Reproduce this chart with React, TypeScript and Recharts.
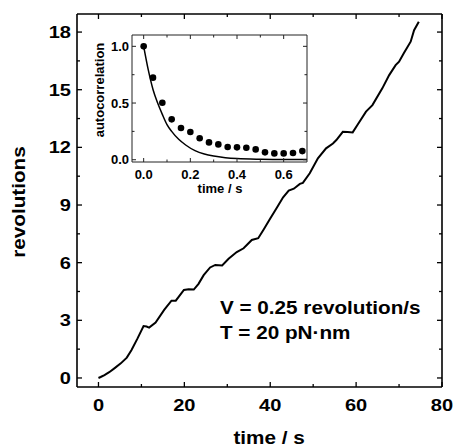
import React from 'react';
import { ComposedChart, Line, Scatter, XAxis, YAxis, Label } from 'recharts';

// ---- main trace (time / s, revolutions) ----
const traceTime = [0, 0.5, 1.4, 2.5, 3.7, 5.2, 6.6, 7.7, 9.1, 10.5, 11.2, 11.8, 13.3, 15.3, 17.0, 18.0, 19.9, 21.0, 22.2, 23.3, 24.5, 26.0, 27.2, 28.8, 30.3, 32.2, 33.8, 35.7, 37.2, 38.4, 40.0, 41.5, 43.0, 44.3, 45.5, 46.9, 47.6, 49.2, 51.1, 53.0, 54.6, 55.4, 56.9, 58.0, 59.2, 60.3, 62.3, 63.8, 66.1, 67.7, 69.2, 70.0, 71.1, 72.7, 73.5, 74.6];
const traceRevs = [0, 0.05, 0.15, 0.3, 0.5, 0.76, 1.06, 1.46, 2.06, 2.7, 2.68, 2.62, 2.88, 3.54, 4.02, 4.02, 4.58, 4.62, 4.6, 4.9, 5.35, 5.75, 5.88, 5.85, 6.2, 6.55, 6.75, 7.18, 7.27, 7.7, 8.3, 8.85, 9.4, 9.75, 9.85, 10.1, 10.15, 10.65, 11.43, 11.95, 12.2, 12.38, 12.81, 12.8, 12.78, 13.16, 13.86, 14.2, 15.07, 15.76, 16.28, 16.46, 16.9, 17.5, 18.1, 18.54];

// ---- inset: autocorrelation points ----
const acfLag = [0, 0.04, 0.08, 0.12, 0.16, 0.2, 0.24, 0.28, 0.32, 0.36, 0.4, 0.44, 0.48, 0.52, 0.56, 0.6, 0.64, 0.68];
const acfValue = [1.0, 0.724, 0.503, 0.356, 0.28, 0.244, 0.19, 0.153, 0.135, 0.112, 0.109, 0.106, 0.091, 0.065, 0.056, 0.056, 0.059, 0.076];

// ---- inset: fitted curve ----
const fitTime = [0, 0.02, 0.04, 0.06, 0.08, 0.1, 0.12, 0.15, 0.18, 0.22, 0.26, 0.3, 0.35, 0.4, 0.5, 0.6, 0.7];
const fitValue = [1.0, 0.79, 0.62, 0.5, 0.4, 0.31, 0.25, 0.18, 0.13, 0.08, 0.05, 0.032, 0.018, 0.01, 0.004, 0.002, 0.001];

// ---- ticks ----
const mainXTicks = [0, 10, 20, 30, 40, 50, 60, 70, 80];
const mainXMajor = [0, 20, 40, 60, 80];
const mainXLabels = ['0', '20', '40', '60', '80'];
const mainYTicks = [0, 1.5, 3, 4.5, 6, 7.5, 9, 10.5, 12, 13.5, 15, 16.5, 18];
const mainYMajor = [0, 3, 6, 9, 12, 15, 18];
const mainYLabels = ['0', '3', '6', '9', '12', '15', '18'];

const insetXTicks = [0, 0.1, 0.2, 0.3, 0.4, 0.5, 0.6];
const insetXMajor = [0, 0.2, 0.4, 0.6];
const insetXLabels = ['0.0', '0.2', '0.4', '0.6'];
const insetYTicks = [0, 0.25, 0.5, 0.75, 1.0];
const insetYMajor = [0, 0.5, 1.0];
const insetYLabels = ['0.0', '0.5', '1.0'];

const traceData = traceTime.map((t, i) => ({ t, r: traceRevs[i] }));
const acfData = acfLag.map((t, i) => ({ t, a: acfValue[i] }));
const fitData = fitTime.map((t, i) => ({ t, a: fitValue[i] }));

const FONT = '"Liberation Sans", Arial, Helvetica, sans-serif';

type Side = 'bottom' | 'top' | 'left' | 'right';

function makeTick(side: Side, majors: number[], labels: string[] | null, opt: { major: number; minor: number; size: number; sx: number; gap: number; color: string; width: number }) {
  return (props: any) => {
    const { x, y, payload } = props;
    const v = payload.value;
    const idx = majors.indexOf(v);
    const len = idx >= 0 ? opt.major : opt.minor;
    let x2 = x, y2 = y;
    if (side === 'bottom') y2 = y - len;
    if (side === 'top') y2 = y + len;
    if (side === 'left') x2 = x + len;
    if (side === 'right') x2 = x - len;
    let label: React.ReactNode = null;
    if (labels && idx >= 0) {
      let tx = x, ty = y, anchor: any = 'middle';
      if (side === 'bottom') { ty = y + opt.gap; }
      if (side === 'left') { tx = x - opt.gap; ty = y + opt.size * 0.36; anchor = 'end'; }
      label = (
        <text transform={`translate(${tx},${ty}) scale(${opt.sx},1)`} textAnchor={anchor} fontSize={opt.size} fontWeight="bold" fontFamily={FONT} fill="#000">
          {labels[idx]}
        </text>
      );
    }
    return (
      <g>
        <line x1={x} y1={y} x2={x2} y2={y2} stroke={opt.color} strokeWidth={opt.width} />
        {label}
      </g>
    );
  };
}

const mainOpt = { major: 5, minor: 3, size: 17, sx: 1.18, gap: 23.5, color: '#000', width: 1.3 };
const insetOpt = { major: 4, minor: 2.5, size: 13, sx: 1.0, gap: 17, color: '#222', width: 1 };

const StretchText = (p: { x: number; y: number; size: number; sx: number; anchor?: any; rotate?: boolean; children: React.ReactNode }) => (
  <text
    transform={`translate(${p.x},${p.y})${p.rotate ? ' rotate(-90)' : ''} scale(${p.sx},1)`}
    textAnchor={p.anchor || 'start'}
    fontSize={p.size}
    fontWeight="bold"
    fontFamily={FONT}
    fill="#000"
  >
    {p.children}
  </text>
);

export default function App() {
  const mainAxis = { stroke: '#000', strokeWidth: 1.6 };
  const insetAxis = { stroke: '#222', strokeWidth: 1 };
  return (
    <div style={{ position: 'absolute', left: 0, top: 0, width: 455, height: 447, background: '#fff' }}>
      <div style={{ position: 'absolute', left: 0, top: 0 }}>
        <ComposedChart width={455} height={447} data={traceData} margin={{ top: 13, right: 12, bottom: 0, left: 0 }}>
          <XAxis xAxisId="b" dataKey="t" type="number" domain={[-5, 80]} allowDataOverflow ticks={mainXTicks} interval={0} height={60} tickSize={0} tickMargin={0} tickLine={false} axisLine={mainAxis} tick={makeTick('bottom', mainXMajor, mainXLabels, mainOpt)}>
            <Label content={() => <StretchText x={269} y={444} size={18} sx={1.15} anchor="middle">time / s</StretchText>} />
          </XAxis>
          <XAxis xAxisId="t" orientation="top" dataKey="t" type="number" domain={[-5, 80]} allowDataOverflow ticks={mainXTicks} interval={0} height={1} tickSize={0} tickMargin={0} tickLine={false} axisLine={mainAxis} tick={makeTick('top', mainXMajor, null, mainOpt)} />
          <YAxis yAxisId="l" type="number" domain={[-0.47, 18.94]} allowDataOverflow ticks={mainYTicks} interval={0} width={77} tickSize={0} tickMargin={0} tickLine={false} axisLine={mainAxis} tick={makeTick('left', mainYMajor, mainYLabels, { ...mainOpt, gap: 6 })}>
            <Label content={() => <StretchText x={25} y={202} size={18} sx={1.15} anchor="middle" rotate>revolutions</StretchText>} />
          </YAxis>
          <YAxis yAxisId="r" orientation="right" type="number" domain={[-0.47, 18.94]} allowDataOverflow ticks={mainYTicks} interval={0} width={1} tickSize={0} tickMargin={0} tickLine={false} axisLine={mainAxis} tick={makeTick('right', mainYMajor, null, mainOpt)} />
          <Line xAxisId="b" yAxisId="l" dataKey="r" type="linear" dot={false} stroke="#000" strokeWidth={2} isAnimationActive={false} />
          <Line xAxisId="t" yAxisId="r" dataKey="r" type="linear" dot={false} stroke="none" strokeWidth={0} isAnimationActive={false} />
        </ComposedChart>
      </div>
      <svg width={455} height={447} style={{ position: 'absolute', left: 0, top: 0, pointerEvents: 'none' }}>
        <StretchText x={220} y={313.5} size={18} sx={1.15}>V = 0.25 revolution/s</StretchText>
        <StretchText x={220} y={339} size={18} sx={1.15}>T = 20 pN·nm</StretchText>
      </svg>
      <div style={{ position: 'absolute', left: 80, top: 20 }}>
        <ComposedChart width={240} height={185} margin={{ top: 14, right: 12, bottom: 0, left: 0 }}>
          <XAxis xAxisId="b" dataKey="t" type="number" domain={[-0.05, 0.7]} allowDataOverflow ticks={insetXTicks} interval={0} height={43} tickSize={0} tickMargin={0} tickLine={false} axisLine={insetAxis} tick={makeTick('bottom', insetXMajor, insetXLabels, insetOpt)}>
            <Label content={() => <StretchText x={140} y={173} size={13} sx={1} anchor="middle">time / s</StretchText>} />
          </XAxis>
          <XAxis xAxisId="t" orientation="top" dataKey="t" type="number" domain={[-0.05, 0.7]} allowDataOverflow ticks={insetXTicks} interval={0} height={1} tickSize={0} tickMargin={0} tickLine={false} axisLine={insetAxis} tick={makeTick('top', insetXMajor, null, insetOpt)} />
          <YAxis yAxisId="l" type="number" domain={[-0.02, 1.1]} allowDataOverflow ticks={insetYTicks} interval={0} width={52} tickSize={0} tickMargin={0} tickLine={false} axisLine={insetAxis} tick={makeTick('left', insetYMajor, insetYLabels, { ...insetOpt, gap: 3 })}>
            <Label content={() => <StretchText x={23.5} y={70} size={13} sx={1} anchor="middle" rotate>autocorrelation</StretchText>} />
          </YAxis>
          <YAxis yAxisId="r" orientation="right" type="number" domain={[-0.02, 1.1]} allowDataOverflow ticks={insetYTicks} interval={0} width={1} tickSize={0} tickMargin={0} tickLine={false} axisLine={insetAxis} tick={makeTick('right', insetYMajor, null, insetOpt)} />
          <Line xAxisId="b" yAxisId="l" data={fitData} dataKey="a" type="monotone" dot={false} stroke="#000" strokeWidth={1.5} isAnimationActive={false} />
          <Line xAxisId="t" yAxisId="r" data={fitData} dataKey="a" type="monotone" dot={false} stroke="none" strokeWidth={0} isAnimationActive={false} />
          <Scatter xAxisId="b" yAxisId="l" data={acfData} dataKey="a" isAnimationActive={false} shape={(p: any) => <circle cx={p.cx} cy={p.cy} r={3.3} fill="#000" />} />
        </ComposedChart>
      </div>
    </div>
  );
}
